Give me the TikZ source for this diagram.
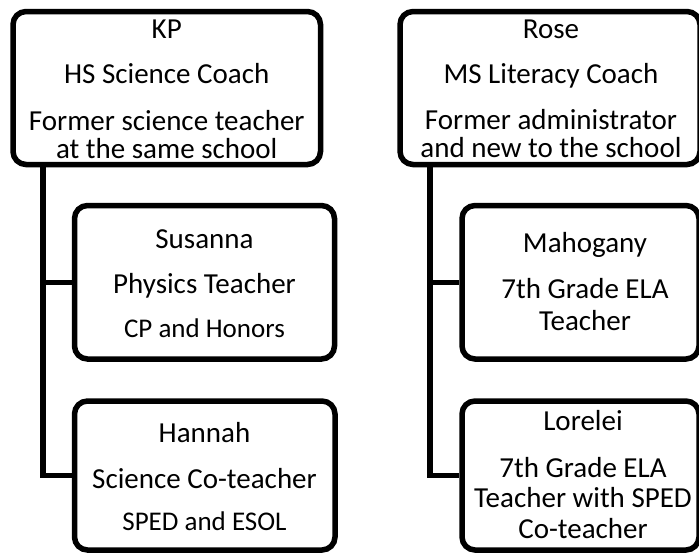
\documentclass[tikz,border=0pt]{standalone}
\usepackage{fontspec}
\setmainfont{Carlito}
\begin{document}
\begin{tikzpicture}[x=1pt,y=-1pt,
  card/.style={draw=black, line width=5.5pt, rounded corners=13pt, inner sep=0pt},
  link/.style={draw=black, line width=5.5pt},
  big/.style={font=\fontsize{29}{29}\selectfont, anchor=base, inner sep=0pt},
  small/.style={font=\fontsize{27}{27}\selectfont, anchor=base, inner sep=0pt}]
\useasboundingbox (0,0) rectangle (699,552);
\begin{scope}
\clip (0,0) rectangle (699,552);

% coach boxes
\node[card, minimum width=307.5pt, minimum height=153pt] (kp) at (166.75,88) {};
\node[card, minimum width=300pt, minimum height=153pt] (rose) at (550,88) {};

% teacher boxes
\node[card, minimum width=260pt, minimum height=153.5pt] (susanna) at (204.5,282.25) {};
\node[card, minimum width=260.5pt, minimum height=149pt] (hannah) at (204.75,475.5) {};
\node[card, minimum width=237pt, minimum height=153.5pt] (mahogany) at (580.5,282.25) {};
\node[card, minimum width=237pt, minimum height=149pt] (lorelei) at (580.5,475.5) {};

% tree connectors
\coordinate (kptrunk) at (43,164.5);
\coordinate (rosetrunk) at (430,164.5);
\draw[link] (kptrunk) |- (hannah.west);
\draw[link] (kptrunk |- susanna.west) -- (susanna.west);
\draw[link] (rosetrunk) |- (lorelei.west);
\draw[link] (rosetrunk |- mahogany.west) -- (mahogany.west);

% coach labels
\node[big] (kpname) at (166.75,38) {KP};
\node[big] (kprole) at (166.75,83) {HS Science Coach};
\node[big] (kpnoteA) at (166.75,130) {Former science teacher};
\node[big] (kpnoteB) at (166.75,158) {at the same school};

\node[big] (rosename) at (551,38) {Rose};
\node[big] (roserole) at (551,83) {MS Literacy Coach};
\node[big] (rosenoteA) at (551,129) {Former administrator};
\node[big] (rosenoteB) at (551,157) {and new to the school};

% teacher labels
\node[big] (susname) at (204.5,248) {Susanna};
\node[big] (susrole) at (204.5,293) {Physics Teacher};
\node[small] (susnote) at (204.5,337) {CP and Honors};

\node[big] (hanname) at (204.5,442) {Hannah};
\node[big] (hanrole) at (204.5,488) {Science Co-teacher};
\node[small] (hannote) at (204.5,530) {SPED and ESOL};

\node[big] (mahname) at (585,252) {Mahogany};
\node[big] (mahroleA) at (585,298) {7th Grade ELA};
\node[big] (mahroleB) at (585,330) {Teacher};

\node[big] (lorname) at (583,430) {Lorelei};
\node[big] (lorroleA) at (583,477) {7th Grade ELA};
\node[big] (lorroleB) at (583,507) {Teacher with SPED};
\node[big] (lorroleC) at (583,538) {Co-teacher};
\end{scope}
\end{tikzpicture}
\end{document}
